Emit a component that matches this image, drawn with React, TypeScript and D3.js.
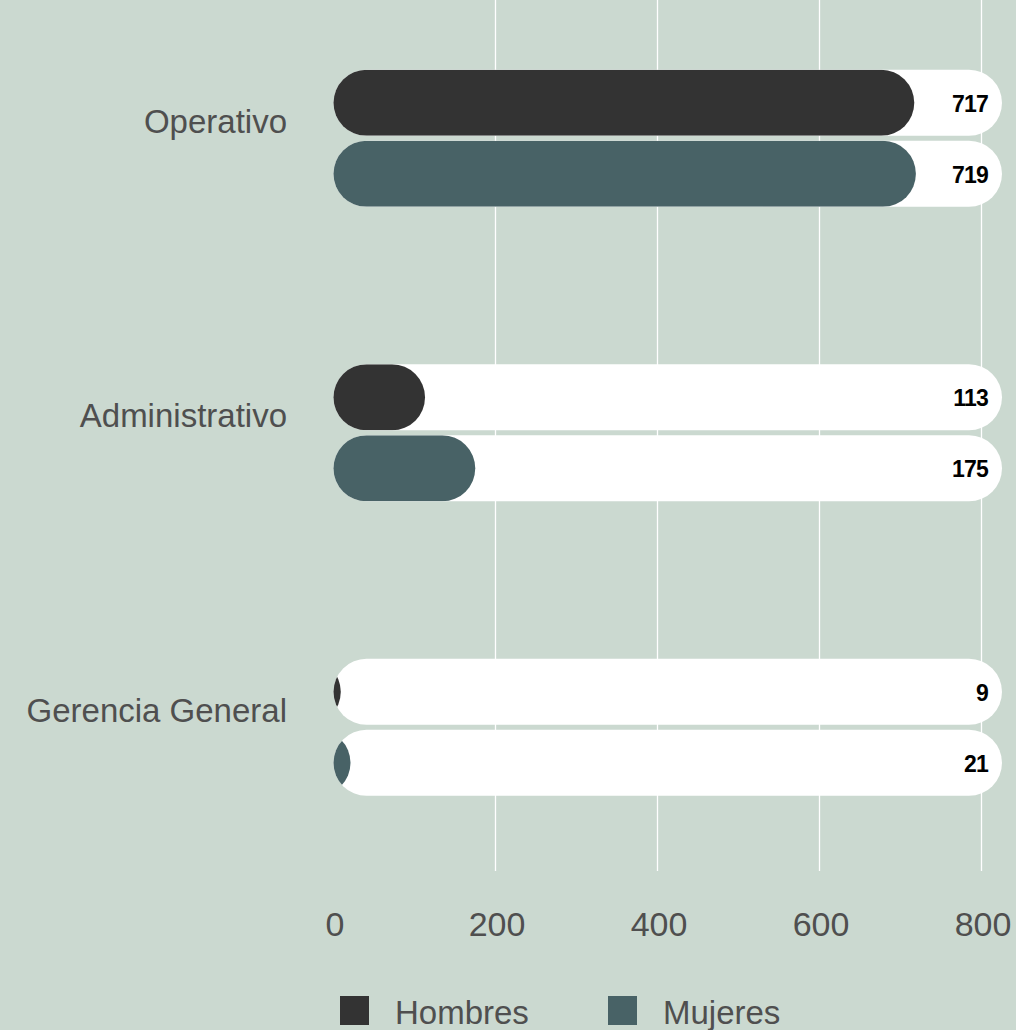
import React from "react";
import * as d3 from "d3";

const categories = ["Operativo", "Administrativo", "Gerencia General"];
const seriesNames = ["Hombres", "Mujeres"];
const hombres = [717, 113, 9];
const mujeres = [719, 175, 21];
const tickValues = [0, 200, 400, 600, 800];
const gridValues = [200, 400, 600, 800];

const W = 1016;
const H = 1030;
const BG = "#cbd9d0";
const COLORS = ["#333333", "#486266"];
const TEXT = "#4f4f4f";
const FONT = "'Liberation Sans', Arial, Helvetica, sans-serif";

export default function App() {
  const x = d3.scaleLinear().domain([0, 800]).range([333.5, 981.5]);
  const trackRight = 1002;
  const y = d3.scalePoint<string>().domain(categories).range([138.3, 727.3]);
  const sub = d3.scaleBand<string>().domain(seriesNames).range([-68.5, 68.5]).paddingInner(0.07);
  const bh = sub.bandwidth();
  const r = bh / 2;
  const values = [hombres, mujeres];

  return (
    <svg
      width={W}
      height={H}
      style={{ position: "absolute", left: 0, top: 0, display: "block" }}
      fontFamily={FONT}
    >
      <rect x={0} y={0} width={W} height={H} fill={BG} />
      {gridValues.map((g) => (
        <line key={g} x1={x(g)} x2={x(g)} y1={0} y2={871} stroke="#ffffff" strokeWidth={1.3} />
      ))}
      <defs>
        {categories.map((c, ci) =>
          seriesNames.map((s, si) => {
            const top = (y(c) as number) + (sub(s) as number);
            return (
              <clipPath key={`cp-${ci}-${si}`} id={`clip-${ci}-${si}`}>
                <rect x={x(0)} y={top} width={trackRight - x(0)} height={bh} rx={r} ry={r} />
              </clipPath>
            );
          })
        )}
      </defs>
      {categories.map((c, ci) => (
        <g key={c}>
          <text
            x={287}
            y={(y(c) as number) - 17}
            dy="0.35em"
            textAnchor="end"
            fontSize={33}
            fill={TEXT}
          >
            {c}
          </text>
          {seriesNames.map((s, si) => {
            const top = (y(c) as number) + (sub(s) as number);
            const v = values[si][ci];
            const xe = x(v);
            const x0 = Math.min(x(0), xe - 2 * r) - 2 * r;
            return (
              <g key={s}>
                <rect x={x(0)} y={top} width={trackRight - x(0)} height={bh} rx={r} ry={r} fill="#ffffff" />
                <g clipPath={`url(#clip-${ci}-${si})`}>
                  <rect x={x0} y={top} width={xe - x0} height={bh} rx={r} ry={r} fill={COLORS[si]} />
                </g>
                <text
                  x={988}
                  y={top + bh / 2 + 1}
                  dy="0.35em"
                  textAnchor="end"
                  fontSize={23}
                  fontWeight="bold"
                  letterSpacing={-0.8}
                  fill="#000000"
                >
                  {v}
                </text>
              </g>
            );
          })}
        </g>
      ))}
      {tickValues.map((t) => (
        <text key={t} x={x(t) + 1.5} y={936} textAnchor="middle" fontSize={34} fill={TEXT}>
          {t}
        </text>
      ))}
      {seriesNames.map((s, i) => {
        const lx = [340, 608][i];
        return (
          <g key={s}>
            <rect x={lx} y={996} width={29} height={29} fill={COLORS[i]} />
            <text x={lx + 55} y={1024} fontSize={33} fill={TEXT}>
              {s}
            </text>
          </g>
        );
      })}
    </svg>
  );
}
